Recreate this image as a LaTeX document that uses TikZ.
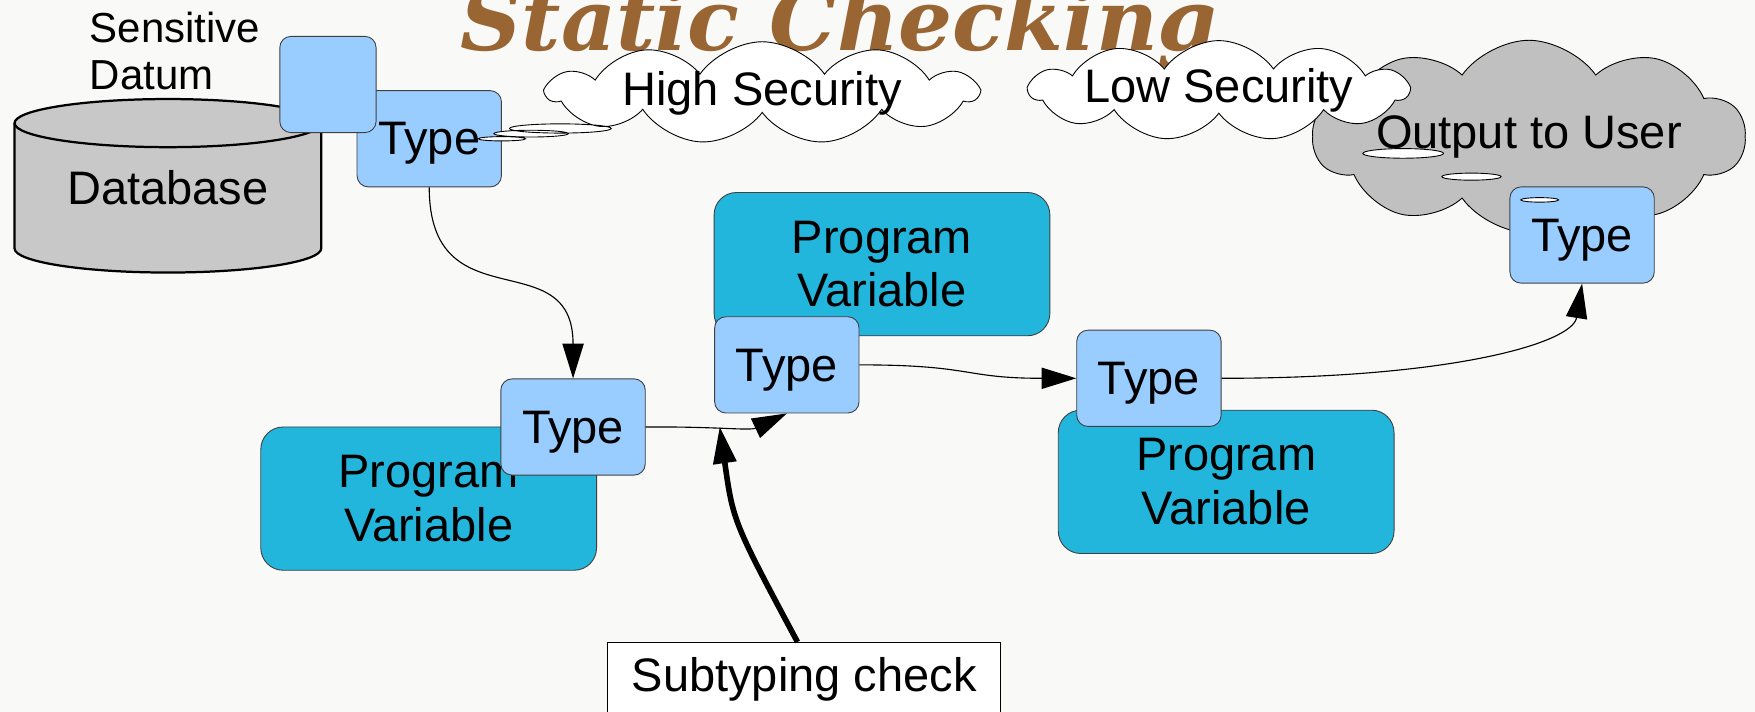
\documentclass[tikz,border=0pt]{standalone}
\usepackage{fontspec}
\setmainfont{Liberation Sans}
\newfontfamily\titlefont{DejaVu Serif}
\usepackage{xcolor}
\usepackage{tikz}
\usetikzlibrary{shapes.symbols, shapes.callouts, arrows.meta, calc}
\definecolor{paper}{RGB}{249,249,248}
\definecolor{typeblue}{RGB}{153,204,255}
\definecolor{varblue}{RGB}{35,182,220}
\definecolor{titlebrown}{RGB}{153,102,51}
\definecolor{dbgray}{RGB}{200,200,200}
\definecolor{cloudgray}{RGB}{192,192,192}
\tikzstyle{headline} = [inner sep=0pt, text=titlebrown, font=\titlefont\bfseries\itshape\fontsize{76}{90}\selectfont]
\tikzstyle{bigtext} = [inner sep=0pt, font=\fontsize{42}{48}\selectfont]
\tikzstyle{note} = [inner sep=0pt, align=left, font=\fontsize{37.5}{42}\selectfont]
\tikzstyle{typebox} = [rectangle, rounded corners=10pt, minimum width=129pt, minimum height=86pt, inner sep=0pt, text depth=0pt, fill=typeblue, draw=black!75, line width=0.8pt, font=\fontsize{42}{48}\selectfont]
\tikzstyle{progvar} = [rectangle, rounded corners=20pt, minimum width=300pt, minimum height=128pt, align=center, fill=varblue, draw=black!75, line width=0.8pt, font=\fontsize{42}{48}\selectfont]
\tikzstyle{thought} = [cloud callout, cloud puffs=11, cloud puff arc=110, cloud ignores aspect, callout pointer segments=3, inner xsep=0pt, inner ysep=-5pt, fill=white, draw=black, line width=0.8pt, font=\fontsize{42}{48}\selectfont]
\tikzstyle{outcloud} = [cloud, cloud puffs=10, cloud puff arc=110, cloud ignores aspect, inner sep=0pt, fill=cloudgray, draw=black, line width=0.8pt, font=\fontsize{42}{48}\selectfont]
\tikzstyle{checkbox} = [rectangle, minimum width=351pt, minimum height=66pt, fill=white, draw=black, line width=0.8pt, font=\fontsize{42}{48}\selectfont]
\tikzstyle{arrow} = [line width=1pt, ->, >={Triangle[length=31pt,width=19pt]}]
\tikzstyle{bigarrow} = [line width=5pt, ->, >={Triangle[length=33pt,width=20pt]}]

\begin{document}
\begin{tikzpicture}[x=1pt, y=1pt]
   \useasboundingbox (0,0) rectangle (1568,636);
   \fill [paper] (0,0) rectangle (1568,636);
   \node (title) [headline, anchor=base] at (749.5,591) {Static Checking};
   % database with its datum
   \filldraw [fill=dbgray, line width=2pt] (13,526) -- (13,414) arc (180:360:137 and 21.5) -- (287,526) arc (0:180:137 and 21.5) -- cycle;
   \draw [line width=2pt] (13,526) arc (180:360:137 and 21.5);
   \node (db) [bigtext] at (150,468) {Database};
   \node (datum) [note, anchor=north west] at (80,625) {Sensitive\\Datum};
   \node (dbtype) [typebox] at (383.5,512) {Type};
   \node (datumtype) [typebox, minimum width=86pt] at (293,560.5) {};
   \node (high) [thought, minimum width=384pt, minimum height=60pt, callout absolute pointer={(dbtype.east)}, callout pointer start size=.3 of callout, callout pointer end size=.11 of callout] at (681,553) {High Security};
   % output side
   \node (output) [outcloud, minimum width=386pt, minimum height=172pt] at (1366,514) {Output to User};
   \node (outtype) [typebox] at (1413.5,426) {Type};
   \node (low) [thought, minimum width=338pt, minimum height=62pt, callout absolute pointer={($(outtype.north west)+(27,-12)$)}, callout pointer start size=.27 of callout, callout pointer end size=.1 of callout] at (1089,555) {Low Security};
   % program variables
   \node (leftvar) [progvar] at (383,190.5) {Program\\Variable};
   \node (topvar) [progvar] at (788,400) {Program\\Variable};
   \node (rightvar) [progvar] at (1095.5,205.5) {Program\\Variable};
   \node (lefttype) [typebox] at (512,254.5) {Type};
   \node (midtype) [typebox] at (703,310) {Type};
   \node (righttype) [typebox] at (1026.5,298) {Type};
   \node (check) [checkbox] at (718.5,29) {Subtyping check};
   \coordinate (hit) at (643,255);
   \draw [arrow] (dbtype.south) .. controls (383.5,346) and (512,421) .. (lefttype.north);
   \draw [arrow] (lefttype.east) .. controls (640,255) and (670,251) .. (midtype.south);
   \draw [arrow] (midtype.east) .. controls (870,310) and (860,298) .. (righttype.west);
   \draw [arrow] (righttype.east) .. controls (1300,298) and (1405,330) .. (outtype.south);
   \draw [bigarrow] ($(check.north)+(-6,0)$) .. controls (655,170) .. (hit);
\end{tikzpicture}
\end{document}
